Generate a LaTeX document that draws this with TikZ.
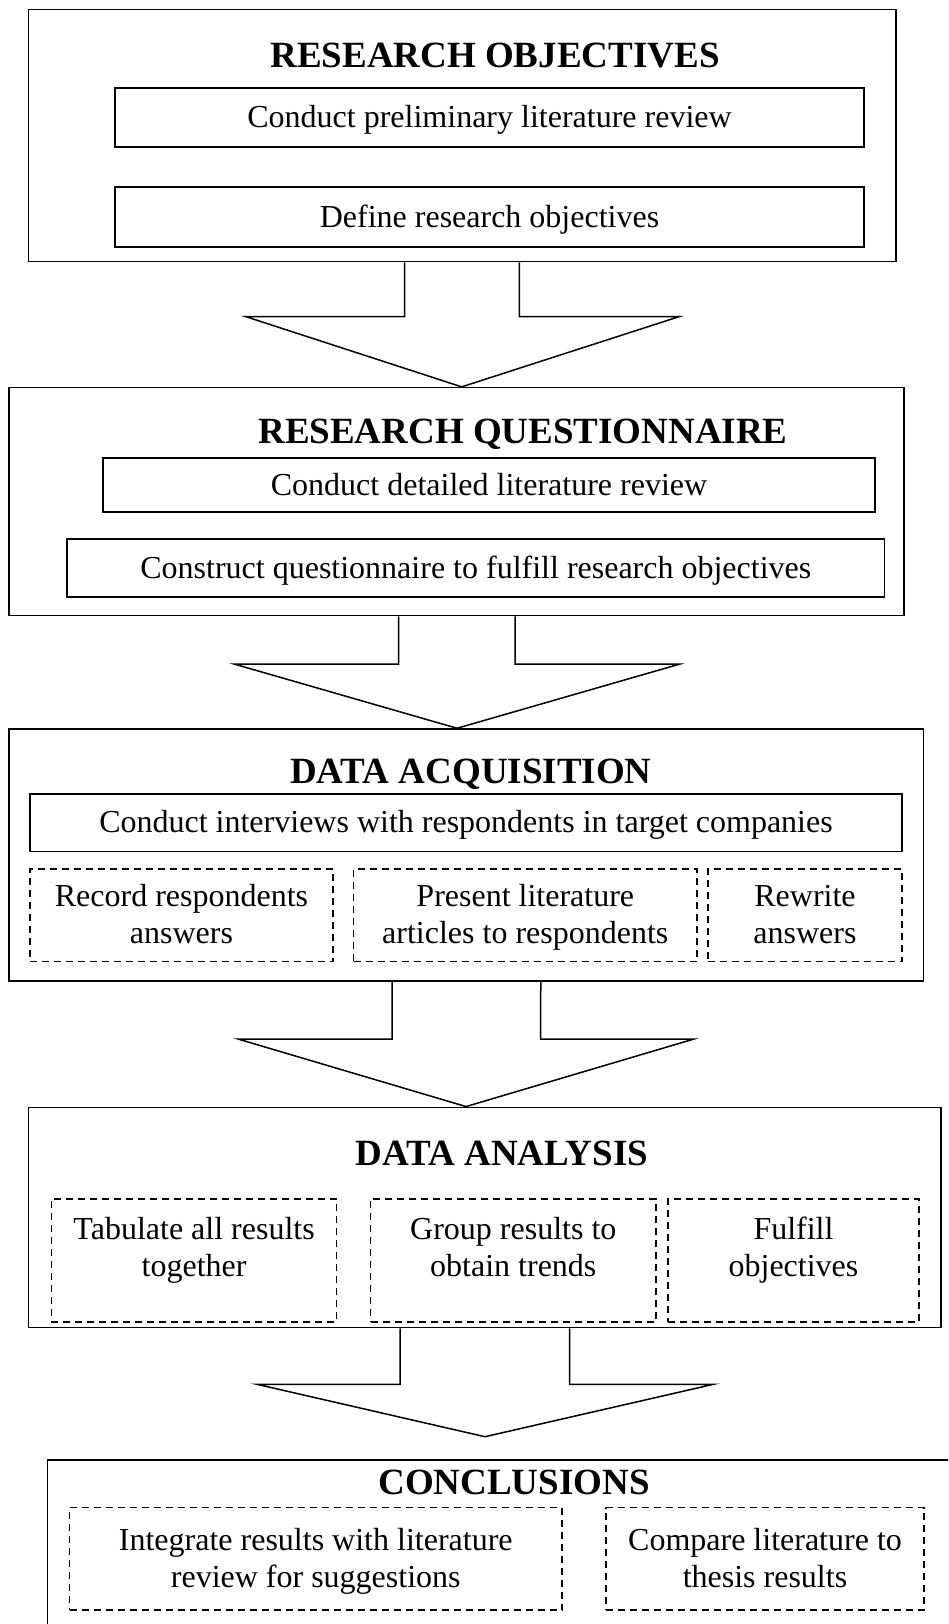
\documentclass[tikz,border=0pt]{standalone}
\usepackage{fontspec}
\setmainfont{Liberation Serif}
\tikzset{
  stage/.style={draw, line width=1.5pt, inner sep=0pt},
  heading/.style={font=\bfseries\fontsize{37}{44}\selectfont, inner sep=0pt, text depth=0pt},
  task/.style={draw, line width=1.3pt, inner sep=0pt, align=center, text height=22pt, text depth=2pt, font=\fontsize{32}{37}\selectfont},
  subtask/.style={task, text height=59pt, dash pattern=on 7pt off 5pt},
  blockarrow/.style={line width=1.5pt, line join=miter}
}
\begin{document}
\begin{tikzpicture}[x=1pt, y=-1pt]
  \clip (0,0) rectangle (948,1624);
  % research objectives
  \node[stage, minimum width=867.5pt, minimum height=252.4pt] (ro) at (462.25,135.5) {};
  \node[heading] (roT) at (495,55) {RESEARCH OBJECTIVES};
  \node[task, minimum width=749pt, minimum height=59pt] (roA) at (489.5,117.5) {Conduct preliminary literature review};
  \node[task, minimum width=749pt, minimum height=60pt] (roB) at (489.5,217) {Define research objectives};
  % research questionnaire
  \node[stage, minimum width=895pt, minimum height=228pt] (rq) at (456.5,501.6) {};
  \node[heading] (rqT) at (523,431) {RESEARCH QUESTIONNAIRE};
  \node[task, minimum width=772pt, minimum height=54pt] (rqA) at (489,485) {Conduct detailed literature review};
  \node[task, minimum width=817.6pt, minimum height=58pt] (rqB) at (475.8,568) {Construct questionnaire to fulfill research objectives};
  % data acquisition
  \node[stage, minimum width=914.5pt, minimum height=252pt] (da) at (466.25,855) {};
  \node[heading] (daT) at (471,771.5) {DATA ACQUISITION};
  \node[task, minimum width=872pt, minimum height=57.7pt] (daA) at (466,822.85) {Conduct interviews with respondents in target companies};
  \node[subtask, minimum width=303pt, minimum height=92.7pt] (daB) at (181.5,915.35) {Record respondents\\answers};
  \node[subtask, minimum width=343.4pt, minimum height=92.7pt] (daC) at (525.3,915.35) {Present literature\\articles to respondents};
  \node[subtask, minimum width=194pt, minimum height=92.7pt] (daD) at (805,915.35) {Rewrite\\answers};
  % data analysis
  \node[stage, minimum width=912.6pt, minimum height=220.4pt] (an) at (484.7,1217.5) {};
  \node[heading] (anT) at (502,1153) {DATA ANALYSIS};
  \node[subtask, text depth=28pt, minimum width=285.4pt, minimum height=123pt] (anA) at (194.1,1260.5) {Tabulate all results\\together};
  \node[subtask, text depth=28pt, minimum width=285.4pt, minimum height=123pt] (anB) at (513.3,1260.5) {Group results to\\obtain trends};
  \node[subtask, text depth=28pt, minimum width=251pt, minimum height=123pt] (anC) at (793.5,1260.5) {Fulfill\\objectives};
  % conclusions (runs off the page)
  \node[stage, minimum width=960pt, minimum height=260pt] (co) at (527.5,1590) {};
  \node[heading] (coT) at (514,1482) {CONCLUSIONS};
  \node[subtask, minimum width=492.5pt, minimum height=102.5pt] (coA) at (315.75,1558.75) {Integrate results with literature\\review for suggestions};
  \node[subtask, minimum width=318pt, minimum height=102.5pt] (coB) at (765,1558.75) {Compare literature to\\thesis results};
  \coordinate (coTip) at (485,1436.7);
  % block arrows
  \draw[blockarrow] ([xshift=-57.6]ro.south) -- (404.6,316.7) -- (246,316.7) -- ([xshift=5.2]rq.north) -- (679,316.7) -- (519.4,316.7) -- ([xshift=57.2]ro.south);
  \draw[blockarrow] ([xshift=-58]rq.south) -- (398.5,664) -- (234,664) -- ([xshift=-9.2]da.north) -- (680,664) -- (515,664) -- ([xshift=58.5]rq.south);
  \draw[blockarrow] ([xshift=-74.2]da.south) -- (392,1039) -- (238,1039) -- ([xshift=-18.7]an.north) -- (694,1039) -- (540.7,1039) -- ([xshift=74.5]da.south);
  \draw[blockarrow] ([xshift=-84.7]an.south) -- (400,1384.3) -- (257,1384.3) -- (coTip) -- (713.4,1384.3) -- (569.5,1384.3) -- ([xshift=84.8]an.south);
\end{tikzpicture}
\end{document}
